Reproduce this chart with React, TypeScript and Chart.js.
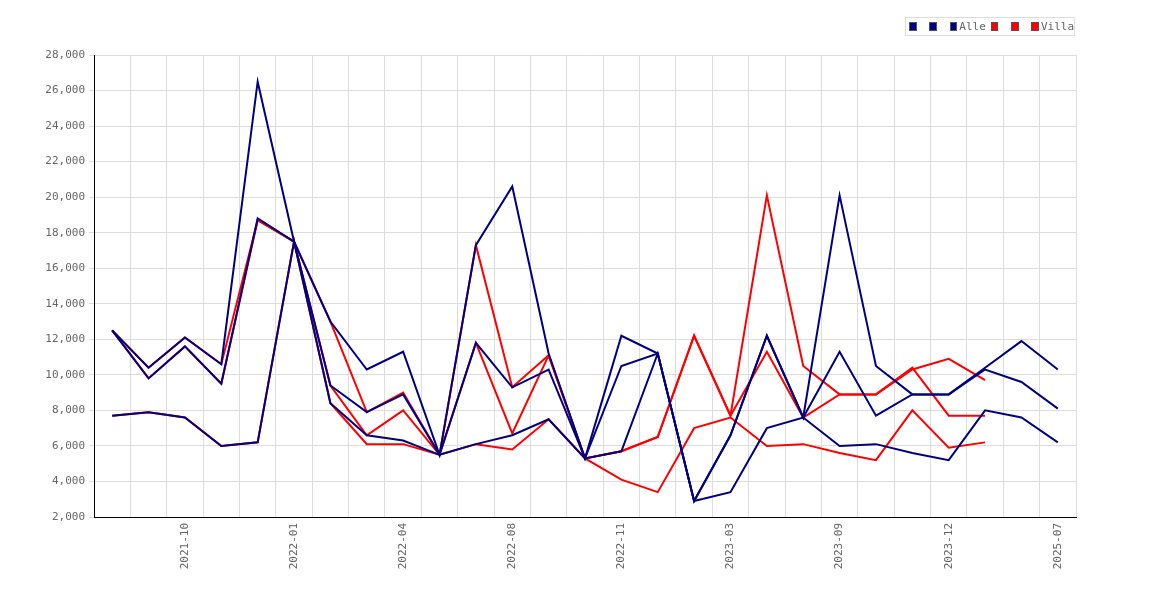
import React, { useEffect, useRef } from "react";
import { Chart, registerables } from "chart.js";
Chart.register(...registerables);

const categories = ["2021-08","2021-09","2021-10","2021-11","2021-12","2022-01","2022-02","2022-03","2022-04","2022-05","2022-07","2022-08","2022-09","2022-10","2022-11","2022-12","2023-01","2023-03","2023-05","2023-07","2023-09","2023-10","2023-11","2023-12","2024-06","2025-01","2025-07"];

const alleMax = [12500,10400,12100,10600,26500,17500,13000,10300,11300,5500,17300,20600,11200,5300,12200,11200,2900,6600,12200,7600,20100,10500,8900,8900,10400,11900,10300];
const alleMid = [12500,9800,11600,9500,18800,17500,9400,7900,8900,5500,11800,9300,10300,5300,10500,11200,2900,6600,12200,7600,11300,7700,8900,8900,10300,9600,8100];
const alleMin = [7700,7900,7600,6000,6200,17500,8400,6600,6300,5500,6100,6600,7500,5300,5700,11200,2900,3400,7000,7600,6000,6100,5600,5200,8000,7600,6200];
const villaMax = [12500,10400,12100,10600,18700,17500,13000,7900,9000,5500,17300,9300,11100,5300,5700,6500,12200,7700,20100,10500,8900,8900,10300,10900,9700];
const villaMid = [12500,9800,11600,9500,18700,17500,9400,6600,8000,5500,11800,6700,11100,5300,5700,6500,12200,7700,11300,7600,8900,8900,10400,7700,7700];
const villaMin = [7700,7900,7600,6000,6200,17500,8400,6100,6100,5500,6100,5800,7500,5300,4100,3400,7000,7600,6000,6100,5600,5200,8000,5900,6200];

const yTicksMin = 2000, yTicksMax = 28000, yStep = 2000;
const NAVY = "#000080", RED = "#ff0000";
const FONT = "'DejaVu Sans Mono', monospace";

export default function App() {
  const ref = useRef<HTMLCanvasElement>(null);
  useEffect(() => {
    const ds = (label: string, data: number[], c: string) => ({ label, data, borderColor: c, backgroundColor: c, borderWidth: 2, pointRadius: 0, tension: 0, fill: false });
    const chart = new Chart(ref.current!, {
      type: "line",
      data: {
        labels: categories,
        datasets: [
          ds("", alleMax, NAVY), ds("", alleMid, NAVY), ds("Alle", alleMin, NAVY),
          ds("", villaMax, RED), ds("", villaMid, RED), ds("Villa", villaMin, RED),
        ],
      },
      options: {
        animation: false, responsive: false,
        layout: { padding: { top: 55, right: 94, left: 0, bottom: 0 } },
        plugins: { legend: { display: false }, tooltip: { enabled: false } },
        scales: {
          x: {
            offset: true,
            grid: { color: "#dddddd", drawTicks: false, offset: true },
            border: { color: "#000", width: 1 },
            ticks: { autoSkip: false, maxRotation: 90, minRotation: 90, padding: 6, color: "#666", font: { family: FONT, size: 11 },
              callback: (_v: any, i: number) => (i % 3 === 2 ? categories[i] : "") },
            afterFit: (s: any) => { s.height = 83; },
          },
          y: {
            min: yTicksMin, max: yTicksMax,
            grid: { color: "#dddddd", drawTicks: true, tickLength: 5 },
            border: { color: "#000", width: 1 },
            ticks: { stepSize: yStep, color: "#666", font: { family: FONT, size: 11 }, padding: 4 },
            afterFit: (s: any) => { s.width = 94; },
          },
        },
      },
    });
    return () => chart.destroy();
  }, []);
  const sq = (c: string) => <span style={{ display: "inline-block", width: 7, height: 7, background: c, border: "1px solid #555", marginRight: 2, verticalAlign: "middle" }} />;
  return (
    <div style={{ position: "fixed", left: 0, top: 0, width: 1170, height: 600, background: "#fff" }}>
      <canvas ref={ref} width={1170} height={600} />
      <div style={{ position: "absolute", left: 905, top: 17, width: 170, height: 19, border: "1px solid #ddd", boxSizing: "border-box", fontFamily: FONT, fontSize: 11, color: "#666", display: "flex", alignItems: "center", paddingLeft: 3, whiteSpace: "nowrap" }}>
        {sq(NAVY)}<span style={{ width: 13 }} />{sq(NAVY)}<span style={{ width: 13 }} />{sq(NAVY)}<span>Alle</span><span style={{ width: 6 }} />
        {sq(RED)}<span style={{ width: 13 }} />{sq(RED)}<span style={{ width: 13 }} />{sq(RED)}<span>Villa</span>
      </div>
    </div>
  );
}
